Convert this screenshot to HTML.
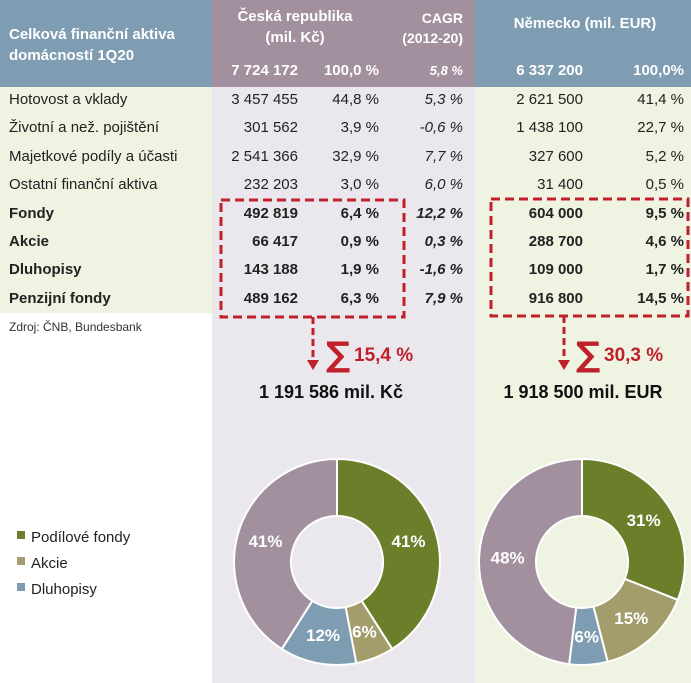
<!DOCTYPE html>
<html><head><meta charset="utf-8"><style>
body{margin:0;width:691px;height:683px;position:relative;overflow:hidden;background:#fff;font-family:"Liberation Sans",sans-serif;}
.a{position:absolute;white-space:nowrap;}
.h{color:#fff;font-weight:bold;font-size:15px;}
.t{font-size:15px;color:#222;}
.r{text-align:right;}
.b{font-weight:bold;}
.i{font-style:italic;}
</style></head><body>
<div class="a" style="left:0;top:0;width:212px;height:87px;background:#7f9db2"></div>
<div class="a" style="left:212px;top:0;width:263px;height:87px;background:#a3909e"></div>
<div class="a" style="left:475px;top:0;width:216px;height:87px;background:#7f9db2"></div>
<div class="a" style="left:0;top:87px;width:212px;height:226px;background:#eef3e2"></div>
<div class="a" style="left:212px;top:87px;width:263px;height:596px;background:#ebe8ed"></div>
<div class="a" style="left:475px;top:87px;width:216px;height:596px;background:#eef3e2"></div>

<div class="a h" style="left:9px;top:24px;line-height:21px">Celková finanční aktiva<br>domácností 1Q20</div>
<div class="a h" style="left:230px;top:6px;width:130px;text-align:center;line-height:21px">Česká republika<br>(mil. Kč)</div>
<div class="a h" style="left:395px;top:8px;width:68px;text-align:right;line-height:20px;font-size:14px">CAGR<br>(2012-20)</div>
<div class="a h" style="left:490px;top:15px;width:190px;text-align:center">Německo (mil. EUR)</div>
<div class="a h r" style="left:200px;top:62px;width:98px">7 724 172</div>
<div class="a h r" style="left:300px;top:62px;width:79px">100,0 %</div>
<div class="a h r i" style="left:400px;top:63px;width:63px;font-size:13px">5,8 %</div>
<div class="a h r" style="left:480px;top:62px;width:103px">6 337 200</div>
<div class="a h r" style="left:590px;top:62px;width:94px">100,0%</div>

<div id="rows"></div>

<div class="a" style="left:9px;top:320px;font-size:12px;color:#333">Zdroj: ČNB, Bundesbank</div>

<svg class="a" style="left:0;top:0" width="691" height="683">
<rect x="221" y="200" width="183" height="117" fill="none" stroke="#c0202a" stroke-width="3" stroke-dasharray="9,5"/>
<rect x="491" y="199" width="197" height="117" fill="none" stroke="#c0202a" stroke-width="3" stroke-dasharray="9,5"/>
<line x1="313" y1="317" x2="313" y2="360" stroke="#c0202a" stroke-width="3" stroke-dasharray="7,4"/>
<polygon points="307,360 319,360 313,370" fill="#c0202a"/>
<line x1="564" y1="316" x2="564" y2="360" stroke="#c0202a" stroke-width="3" stroke-dasharray="7,4"/>
<polygon points="558,360 570,360 564,370" fill="#c0202a"/>
<text x="326" y="366" font-size="34" font-weight="bold" fill="#c0202a" font-family="DejaVu Sans,sans-serif">∑</text>
<text x="354" y="361" font-size="19" font-weight="bold" fill="#c0202a" font-family="Liberation Sans,sans-serif">15,4 %</text>
<text x="576" y="366" font-size="34" font-weight="bold" fill="#c0202a" font-family="DejaVu Sans,sans-serif">∑</text>
<text x="604" y="361" font-size="19" font-weight="bold" fill="#c0202a" font-family="Liberation Sans,sans-serif">30,3 %</text>
<text x="331" y="398" text-anchor="middle" font-size="18" font-weight="bold" fill="#111" font-family="Liberation Sans,sans-serif">1 191 586 mil. Kč</text>
<text x="583" y="398" text-anchor="middle" font-size="18" font-weight="bold" fill="#111" font-family="Liberation Sans,sans-serif">1 918 500 mil. EUR</text>
<g id="donuts"></g>
<rect x="17" y="531" width="8" height="8" fill="#6b7f2a"/>
<text x="31" y="542" font-size="15" fill="#222" font-family="Liberation Sans,sans-serif">Podílové fondy</text>
<rect x="17" y="557" width="8" height="8" fill="#a39d6c"/>
<text x="31" y="568" font-size="15" fill="#222" font-family="Liberation Sans,sans-serif">Akcie</text>
<rect x="17" y="583" width="8" height="8" fill="#7f9db2"/>
<text x="31" y="594" font-size="15" fill="#222" font-family="Liberation Sans,sans-serif">Dluhopisy</text>
</svg>

<script>
const rowLabels=["Hotovost a vklady","Životní a než. pojištění","Majetkové podíly a účasti","Ostatní finanční aktiva","Fondy","Akcie","Dluhopisy","Penzijní fondy"];
const czValues=["3 457 455","301 562","2 541 366","232 203","492 819","66 417","143 188","489 162"];
const czPct=["44,8 %","3,9 %","32,9 %","3,0 %","6,4 %","0,9 %","1,9 %","6,3 %"];
const czCagr=["5,3 %","-0,6 %","7,7 %","6,0 %","12,2 %","0,3 %","-1,6 %","7,9 %"];
const deValues=["2 621 500","1 438 100","327 600","31 400","604 000","288 700","109 000","916 800"];
const dePct=["41,4 %","22,7 %","5,2 %","0,5 %","9,5 %","4,6 %","1,7 %","14,5 %"];
const czShares=[41,6,12,41];
const deShares=[31,15,6,48];
const sliceColors=["#6b7f2a","#a39d6c","#7f9db2","#a3909e"];

const rows=document.getElementById('rows');
function cell(txt,l,w,top,cls,name){
  const d=document.createElement('div');
  d.className='a t '+cls;
  d.style.left=l+'px';d.style.top=top+'px';if(w)d.style.width=w+'px';
  d.textContent=txt;
  
  
  rows.appendChild(d);
}
rowLabels.forEach((lab,i)=>{
  const top=91+i*28.4;const bold=i>=4?' b':'';
  cell(lab,9,0,top,bold,'row-label');
  cell(czValues[i],200,98,top,'r'+bold,'cz-value');
  cell(czPct[i],300,79,top,'r'+bold,'cz-pct');
  cell(czCagr[i],400,63,top,'r i'+bold,'cz-cagr');
  cell(deValues[i],480,103,top,'r'+bold,'de-value');
  cell(dePct[i],590,94,top,'r'+bold,'de-pct');
});

const NS='http://www.w3.org/2000/svg';
const g=document.getElementById('donuts');
function donut(shares,cx,cy,R,r,name){
  const tot=shares.reduce((a,b)=>a+b,0);let a0=0;
  shares.forEach((v,i)=>{
    const a1=a0+v/tot*2*Math.PI;
    const p=(a,rad)=>[cx+rad*Math.sin(a),cy-rad*Math.cos(a)];
    const [x1,y1]=p(a0,R),[x2,y2]=p(a1,R),[x3,y3]=p(a1,r),[x4,y4]=p(a0,r);
    const lg=(a1-a0)>Math.PI?1:0;
    const path=document.createElementNS(NS,'path');
    path.setAttribute('d',`M${x1},${y1}A${R},${R} 0 ${lg} 1 ${x2},${y2}L${x3},${y3}A${r},${r} 0 ${lg} 0 ${x4},${y4}Z`);
    path.setAttribute('fill',sliceColors[i]);path.setAttribute('stroke','#fff');path.setAttribute('stroke-width','2');
    
    
    g.appendChild(path);
    const m=(a0+a1)/2;const [tx,ty]=p(m,(R+r)/2);
    const t=document.createElementNS(NS,'text');
    t.setAttribute('x',tx);t.setAttribute('y',ty+6);t.setAttribute('text-anchor','middle');
    t.setAttribute('font-size','17');t.setAttribute('font-weight','bold');t.setAttribute('fill','#fff');
    t.setAttribute('font-family','Liberation Sans,sans-serif');
    t.textContent=Math.round(v/tot*100)+'%';
    
    
    g.appendChild(t);
    a0=a1;
  });
}
donut(czShares,337,562,103,46,'cz-donut');
donut(deShares,582,562,103,46,'de-donut');
</script>
</body></html>
